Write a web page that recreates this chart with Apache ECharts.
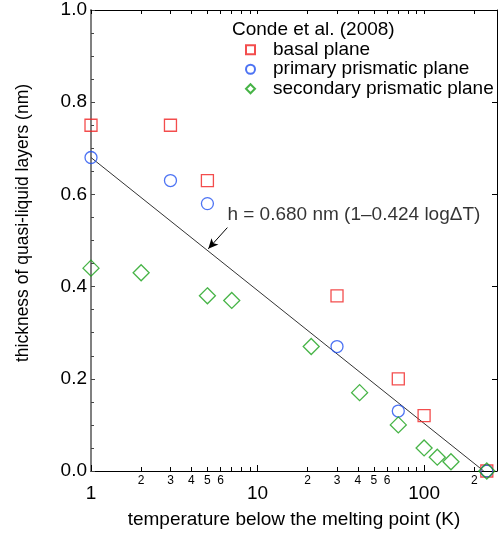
<!DOCTYPE html>
<html><head><meta charset="utf-8">
<script src="https://cdn.jsdelivr.net/npm/echarts@6/dist/echarts.min.js"></script>
<style>html,body{margin:0;padding:0;background:#fff}#c{width:498px;height:538px}</style>
</head><body><div id="c"></div>
<script>
// ---- data ----
var basalX = [1, 3, 5, 30, 70, 100, 238];
var basalY = [0.75, 0.75, 0.63, 0.38, 0.20, 0.12, 0.0];
var primX = [1, 3, 5, 30, 70, 238];
var primY = [0.68, 0.63, 0.58, 0.27, 0.13, 0.0];
var secX = [1, 2, 5, 7, 21, 41, 70, 100, 120, 145, 238];
var secY = [0.44, 0.43, 0.38, 0.37, 0.27, 0.17, 0.10, 0.05, 0.03, 0.02, 0.0];
var fitX = [1, 228];
var fitY = [0.68, 0.0];
var seriesNames = ['basal plane', 'primary prismatic plane', 'secondary prismatic plane'];
var legendTitle = 'Conde et al. (2008)';
var fitText = 'h = 0.680 nm (1\u20130.424 log\u0394T)';
var arrowFrom = [6.59, 0.528];
var arrowTo = [5.06, 0.482];
var fitLabelPos = [6.59, 0.555];
var xMajorTicks = [1, 10, 100];
var xMinorTicks = [2, 3, 4, 5, 6, 7, 8, 9, 20, 30, 40, 50, 60, 70, 80, 90, 200];
var xMinorLabels = [2, 3, 4, 5, 6, 20, 30, 40, 50, 60, 200];
var xMin = 1, xMax = 274;
var yMin = 0, yMax = 1, yStep = 0.2;
var xTitle = 'temperature below the melting point (K)';
var yTitle = 'thickness of quasi-liquid layers (nm)';

function zip(a, b) { return a.map(function (v, i) { return [v, b[i]]; }); }

var FONT = '"Liberation Sans", Arial, Helvetica, sans-serif';
var RED = '#f02020', BLUE = '#2050f0', GREEN = '#18a018';

var chart = echarts.init(document.getElementById('c'), null, {renderer: 'canvas'});
var grid = {left: 91, right: 1, top: 10, bottom: 67};

chart.setOption({
  animation: false,
  textStyle: {fontFamily: FONT, color: '#000'},
  grid: grid,
  title: {text: legendTitle, left: 232, top: 20, padding: 0,
          textStyle: {fontFamily: FONT, fontSize: 19, fontWeight: 'normal', color: '#000'}},
  legend: {
    data: seriesNames, orient: 'vertical', left: 245, top: 40, padding: 0,
    itemWidth: 9, itemHeight: 9, itemGap: 0,
    textStyle: {fontFamily: FONT, fontSize: 19, color: '#000', lineHeight: 19.5, padding: [0, 0, 0, 13]},
    selectedMode: false
  },
  xAxis: [
    {type: 'log', logBase: 10, min: xMin, max: xMax, position: 'bottom', gridIndex: 0,
     axisLine: {show: true, onZero: false, lineStyle: {color: '#000', width: 1}},
     axisTick: {show: true, inside: true, length: 4, customValues: xMinorTicks, lineStyle: {color: '#000'}},
     axisLabel: {show: true, margin: 4, fontSize: 12, fontFamily: FONT, color: '#000',
                 customValues: xMinorLabels,
                 formatter: function (v) { return String(Math.round(v))[0]; }},
     splitLine: {show: false}, minorTick: {show: false},
     name: xTitle, nameLocation: 'middle', nameGap: 39,
     nameTextStyle: {fontFamily: FONT, fontSize: 19, color: '#000'}},
    {type: 'log', logBase: 10, min: xMin, max: xMax, position: 'bottom', gridIndex: 0,
     axisLine: {show: false, onZero: false},
     axisTick: {show: true, inside: true, length: 6, customValues: xMajorTicks, lineStyle: {color: '#000'}},
     axisLabel: {show: true, margin: 13, fontSize: 19, fontFamily: FONT, color: '#000',
                 customValues: xMajorTicks, formatter: function (v) { return String(Math.round(v)); }},
     splitLine: {show: false}},
    {type: 'log', logBase: 10, min: xMin, max: xMax, position: 'top', gridIndex: 0,
     axisLine: {show: true, onZero: false, lineStyle: {color: '#000', width: 1}},
     axisTick: {show: true, inside: true, length: 4, customValues: xMinorTicks.concat(xMajorTicks), lineStyle: {color: '#000'}},
     axisLabel: {show: false}, splitLine: {show: false}}
  ],
  yAxis: [
    {type: 'value', min: yMin, max: yMax, interval: yStep, position: 'left',
     axisLine: {show: true, onZero: false, lineStyle: {color: '#808080', width: 2}},
     axisTick: {show: true, inside: true, length: 4, lineStyle: {color: '#444'}},
     minorTick: {show: true, splitNumber: 4, length: 3, lineStyle: {color: '#444'}},
     axisLabel: {margin: 4, fontSize: 19, fontFamily: FONT, color: '#000',
                 formatter: function (v) { return v.toFixed(1); }},
     splitLine: {show: false}},
    {type: 'value', min: yMin, max: yMax, interval: yStep, position: 'right',
     axisLine: {show: true, onZero: false, lineStyle: {color: '#000', width: 1}},
     axisTick: {show: true, inside: true, length: 5, lineStyle: {color: '#000'}},
     axisLabel: {show: false}, splitLine: {show: false}}
  ],
  graphic: [{type: 'text', x: 23, y: 223, rotation: Math.PI / 2,
             style: {text: yTitle, font: '17.5px ' + FONT, fill: '#000', align: 'center', verticalAlign: 'middle'}}],
  series: [
    {type: 'line', name: 'fit', data: zip(fitX, fitY), xAxisIndex: 0, yAxisIndex: 0,
     symbol: 'none', lineStyle: {color: '#333', width: 1}, silent: true, z: 1,
     markLine: {silent: true, symbol: ['none', 'arrow'], symbolSize: [7, 10],
                label: {show: false}, lineStyle: {color: '#000', width: 1, type: 'solid'},
                data: [[{coord: arrowFrom}, {coord: arrowTo}]]}},
    {type: 'scatter', name: 'fitlabel', data: [fitLabelPos],
     symbolSize: 0, silent: true,
     label: {show: true, position: 'right', distance: 0, formatter: fitText,
             fontFamily: FONT, fontSize: 19, color: '#000'}},
    {type: 'scatter', name: seriesNames[0], data: zip(basalX, basalY), symbol: 'rect', symbolSize: 12,
     itemStyle: {color: 'rgba(0,0,0,0)', borderColor: RED, borderWidth: 1.3}, z: 3},
    {type: 'scatter', name: seriesNames[1], data: zip(primX, primY), symbol: 'circle', symbolSize: 12,
     itemStyle: {color: 'rgba(0,0,0,0)', borderColor: BLUE, borderWidth: 1.3}, z: 4},
    {type: 'scatter', name: seriesNames[2], data: zip(secX, secY), symbol: 'diamond', symbolSize: 16,
     itemStyle: {color: 'rgba(0,0,0,0)', borderColor: GREEN, borderWidth: 1.3}, z: 5}
  ]
});
</script></body></html>
